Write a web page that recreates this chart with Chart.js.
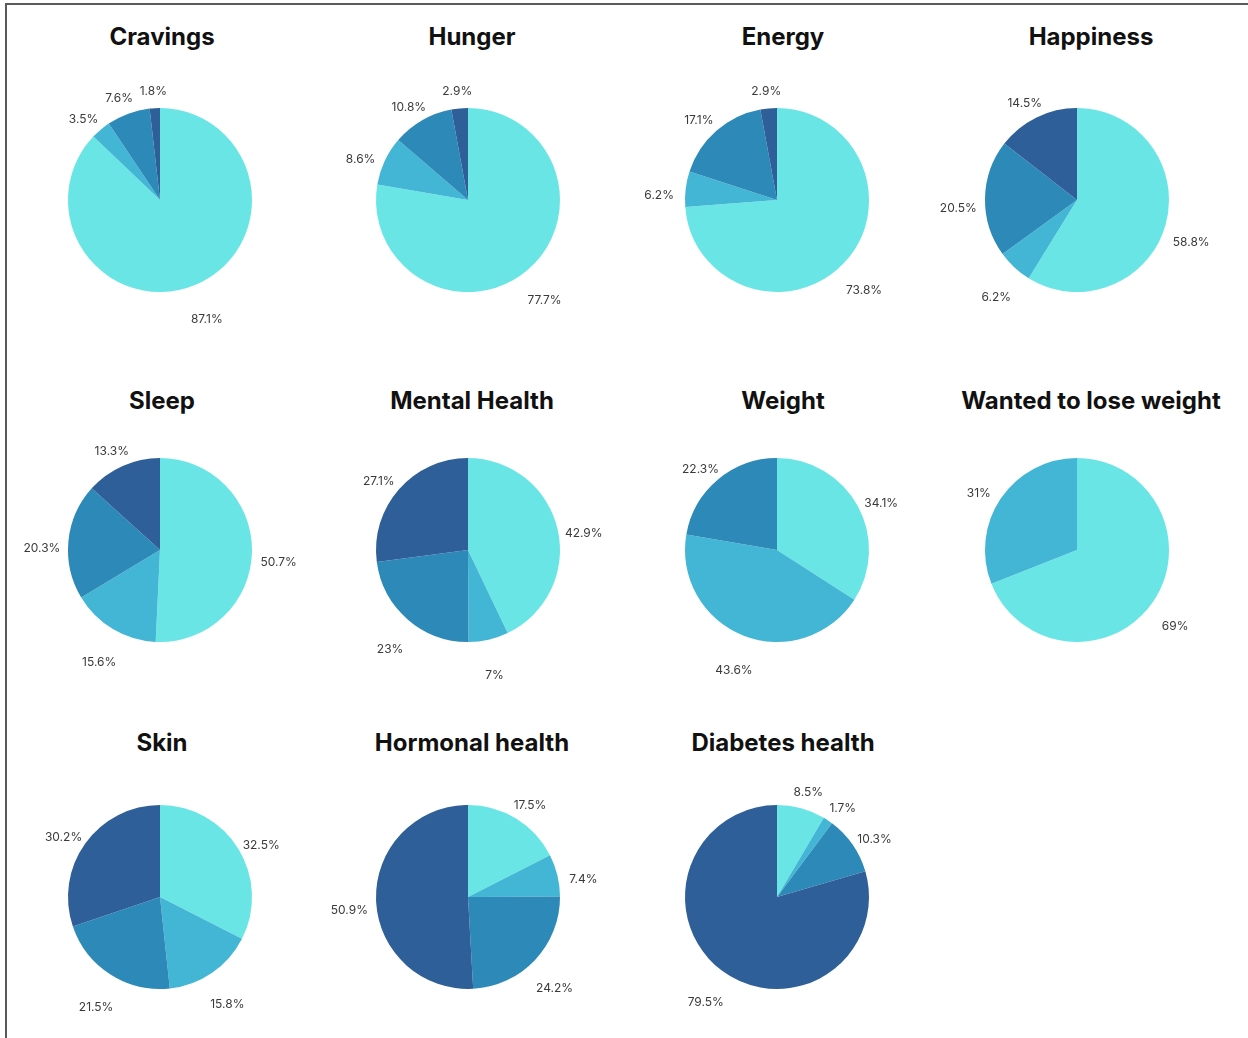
<!DOCTYPE html>
<html>
<head>
<meta charset="utf-8">
<script src="https://cdn.jsdelivr.net/npm/chart.js@4/dist/chart.umd.min.js"></script>
<style>
  body { margin: 0; background: #fff; }
  #page { position: relative; width: 1248px; height: 1038px; overflow: hidden; }
  #frame { position: absolute; left: 5px; top: 3px; right: -10px; bottom: -10px;
           border-top: 2px solid #5a5a5a; border-left: 2px solid #5a5a5a; }
  .title { position: absolute; width: 300px; margin-left: -150px; text-align: center;
           font-family: Inter, "DejaVu Sans", sans-serif; font-weight: 700; font-size: 24px;
           line-height: 30px; color: #111; white-space: nowrap; }
  canvas { position: absolute; }
</style>
</head>
<body>
<div id="page"><div id="frame"></div></div>
<script>
// chart titles, in reading order
var titles = ['Cravings', 'Hunger', 'Energy', 'Happiness',
              'Sleep', 'Mental Health', 'Weight', 'Wanted to lose weight',
              'Skin', 'Hormonal health', 'Diabetes health'];

// slice values (%) per chart, clockwise from the top
var cravings   = [87.1, 3.5, 7.6, 1.8];
var hunger     = [77.7, 8.6, 10.8, 2.9];
var energy     = [73.8, 6.2, 17.1, 2.9];
var happiness  = [58.8, 6.2, 20.5, 14.5];
var sleep      = [50.7, 15.6, 20.3, 13.3];
var mental     = [42.9, 7, 23, 27.1];
var weight     = [34.1, 43.6, 22.3];
var loseWeight = [69, 31];
var skin       = [32.5, 15.8, 21.5, 30.2];
var hormonal   = [17.5, 7.4, 24.2, 50.9];
var diabetes   = [8.5, 1.7, 10.3, 79.5];

var allValues = [cravings, hunger, energy, happiness, sleep, mental,
                 weight, loseWeight, skin, hormonal, diabetes];

var colors = ['#6ae5e6', '#42b6d4', '#2d8ab8', '#2e5f98'];

// grid placement
var pieX = [160, 468, 777, 1077];
var titleX = [162, 472, 783, 1091];
var pieY = [200, 550, 897];
var titleY = [37, 401, 743];

var outsideLabels = {
  id: 'outsideLabels',
  afterDatasetsDraw: function (chart) {
    var ctx = chart.ctx;
    var vals = chart.data.datasets[0].data;
    ctx.save();
    ctx.font = '12px Inter, "Liberation Sans", sans-serif';
    ctx.fillStyle = '#3a3a3a';
    ctx.textAlign = 'center';
    ctx.textBaseline = 'middle';
    chart.getDatasetMeta(0).data.forEach(function (arc, i) {
      var p = arc.getProps(['x', 'y', 'startAngle', 'endAngle', 'outerRadius'], true);
      var mid = (p.startAngle + p.endAngle) / 2;
      var d = p.outerRadius * 1.29;
      ctx.fillText(vals[i] + '%', p.x + Math.cos(mid) * d, p.y + Math.sin(mid) * d + 10);
    });
    ctx.restore();
  }
};

var page = document.getElementById('page');
var size = 300;

allValues.forEach(function (vals, k) {
  var col = k % 4, row = Math.floor(k / 4);

  var t = document.createElement('div');
  t.className = 'title';
  t.textContent = titles[k];
  t.style.left = titleX[col] + 'px';
  t.style.top = (titleY[row] - 15) + 'px';
  page.appendChild(t);

  var c = document.createElement('canvas');
  c.width = size; c.height = size;
  c.style.left = (pieX[col] - size / 2) + 'px';
  c.style.top = (pieY[row] - size / 2) + 'px';
  page.appendChild(c);

  new Chart(c.getContext('2d'), {
    type: 'pie',
    data: {
      labels: vals.map(function (v, i) { return 'Slice ' + (i + 1); }),
      datasets: [{
        data: vals,
        backgroundColor: colors.slice(0, vals.length),
        borderWidth: 0
      }]
    },
    options: {
      responsive: false,
      animation: false,
      layout: { padding: 58 },
      plugins: { legend: { display: false }, tooltip: { enabled: false } }
    },
    plugins: [outsideLabels]
  });
});
</script>
</body>
</html>
